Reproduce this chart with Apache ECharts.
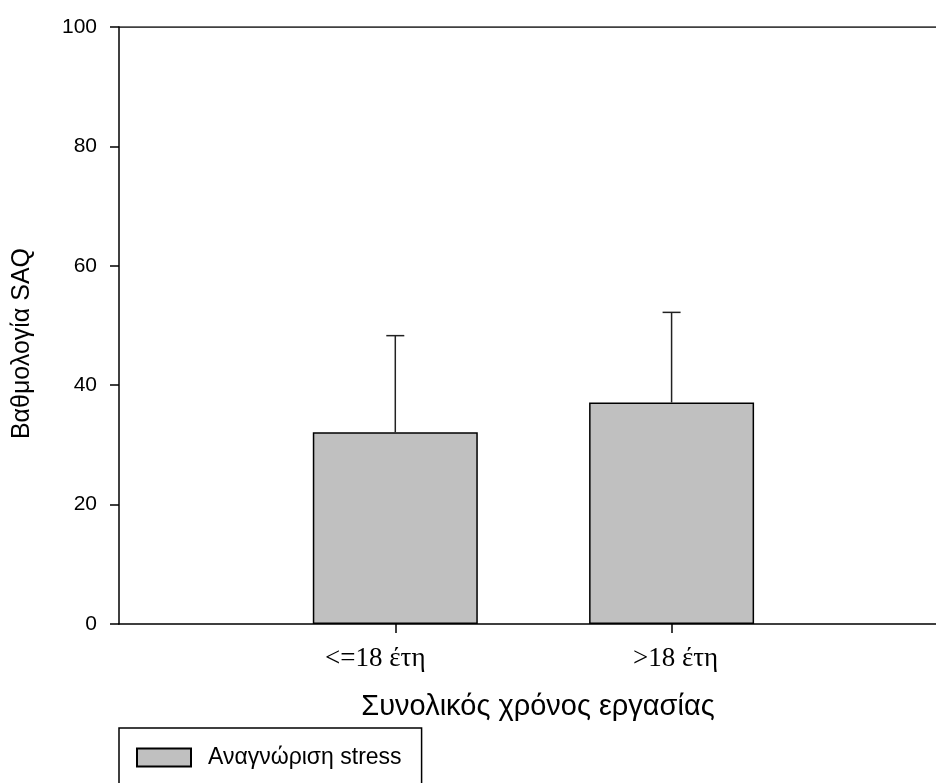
<!DOCTYPE html>
<html>
<head>
<meta charset="utf-8">
<script src="https://cdn.jsdelivr.net/npm/echarts@6/dist/echarts.min.js"></script>
<style>
html,body{margin:0;padding:0;background:#fff;}
#chart{width:936px;height:783px;}
</style>
</head>
<body>
<div id="chart"></div>
<script>
const categories = ['<=18 έτη', '>18 έτη'];
const categoryPositions = [1, 2];
const meanValues = [32.1, 37.1];
const errorTops = [48.3, 52.2];
const seriesName = 'Αναγνώριση stress';
const yTicks = [0, 20, 40, 60, 80, 100];

const chart = echarts.init(document.getElementById('chart'));

const barData = categoryPositions.map((x, i) => [x, meanValues[i]]);
const errData = categoryPositions.map((x, i) => [x, meanValues[i], errorTops[i]]);
const labelStyleKeys = ['a', 'b'];

chart.setOption({
  animation: false,
  backgroundColor: '#ffffff',
  grid: { left: 119, right: 0, top: 27, bottom: 159, containLabel: false },
  legend: {
    left: 119, top: 728,
    orient: 'horizontal',
    data: [{ name: seriesName, icon: 'rect' }],
    itemWidth: 54, itemHeight: 18, itemGap: 10,
    padding: [18, 20, 30, 17],
    borderColor: '#000', borderWidth: 1.5,
    textStyle: { fontFamily: 'Arial, "Liberation Sans", sans-serif', fontSize: 23, color: '#000', padding: [0,0,0,12] },
    selectedMode: false
  },
  xAxis: {
    type: 'value',
    min: 0, max: 2.957,
    interval: 1,
    name: 'Συνολικός χρόνος εργασίας',
    nameLocation: 'middle',
    nameGap: 68,
    nameTextStyle: { fontFamily: 'Arial, "Liberation Sans", sans-serif', fontSize: 29, color: '#000', verticalAlign: 'top', padding: [0, 0, 0, 21] },
    axisLine: { show: true, lineStyle: { color: '#000', width: 1.5 } },
    axisTick: { show: true, length: 9, inside: false, lineStyle: { color: '#000', width: 1.5 },
      customValues: categoryPositions },
    axisLabel: {
      customValues: categoryPositions,
      formatter: v => { const i = categoryPositions.indexOf(Math.round(v)); return i >= 0 ? '{' + labelStyleKeys[i] + '|' + categories[i] + '}' : ''; },
      fontFamily: '"Times New Roman", "Liberation Serif", serif', fontSize: 27, color: '#000', margin: 21,
      rich: {
        a: { fontFamily: '"Times New Roman", "Liberation Serif", serif', fontSize: 27, color: '#000', padding: [0, 40, 0, 0] },
        b: { fontFamily: '"Times New Roman", "Liberation Serif", serif', fontSize: 27, color: '#000', padding: [0, 0, 0, 8] }
      }
    },
    splitLine: { show: false }
  },
  yAxis: {
    type: 'value',
    min: 0, max: 100, interval: 20,
    name: 'Βαθμολογία SAQ',
    nameLocation: 'middle',
    nameGap: 84,
    nameRotate: 90,
    nameTextStyle: { fontFamily: 'Arial, "Liberation Sans", sans-serif', fontSize: 25, color: '#000', padding: [0, 36, 0, 0] },
    axisLine: { show: true, lineStyle: { color: '#000', width: 1.5 } },
    axisTick: { show: true, length: 9, inside: false, lineStyle: { color: '#000', width: 1.5 } },
    axisLabel: {
      fontFamily: 'Arial, "Liberation Sans", sans-serif', fontSize: 21, color: '#000', margin: 22,
      formatter: v => yTicks.includes(v) ? String(v) : ''
    },
    splitLine: { show: false }
  },
  series: [
    {
      name: seriesName,
      type: 'bar',
      data: barData,
      barWidth: 165,
      itemStyle: { color: '#c0c0c0', borderColor: '#000', borderWidth: 1.5 },
      z: 2
    },
    {
      name: 'err',
      type: 'custom',
      data: errData,
      z: 3,
      renderItem: (params, api) => {
        const x = api.value(0);
        const lo = api.coord([x, api.value(1)]);
        const hi = api.coord([x, api.value(2)]);
        const cap = 9;
        return {
          type: 'group',
          children: [
            { type: 'line', shape: { x1: lo[0], y1: lo[1], x2: hi[0], y2: hi[1] }, style: { stroke: '#222', lineWidth: 1.5 } },
            { type: 'line', shape: { x1: hi[0] - cap, y1: hi[1], x2: hi[0] + cap, y2: hi[1] }, style: { stroke: '#222', lineWidth: 1.5 } }
          ]
        };
      }
    },
    {
      name: 'topline',
      type: 'line',
      data: [[0, 100], [2.957, 100]],
      symbol: 'none',
      lineStyle: { color: '#000', width: 1.5 },
      silent: true,
      z: 1
    }
  ]
});
</script>
</body>
</html>
